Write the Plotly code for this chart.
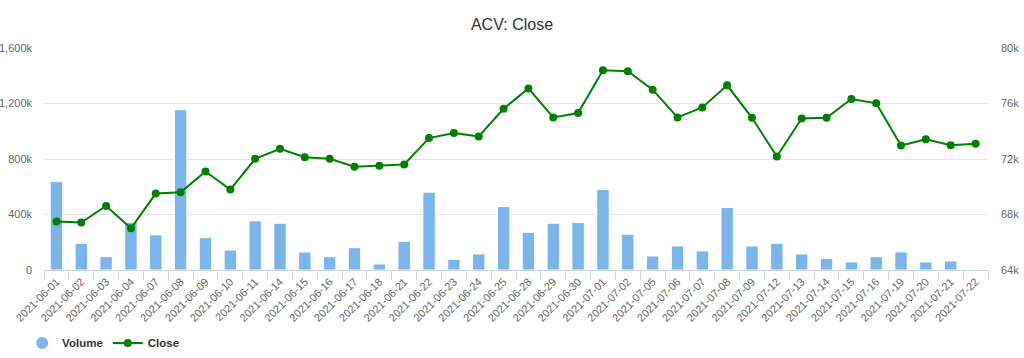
import plotly.graph_objects as go

dates = ["2021-06-01","2021-06-02","2021-06-03","2021-06-04","2021-06-07","2021-06-08","2021-06-09",
         "2021-06-10","2021-06-11","2021-06-14","2021-06-15","2021-06-16","2021-06-17","2021-06-18",
         "2021-06-21","2021-06-22","2021-06-23","2021-06-24","2021-06-25","2021-06-28","2021-06-29",
         "2021-06-30","2021-07-01","2021-07-02","2021-07-05","2021-07-06","2021-07-07","2021-07-08",
         "2021-07-09","2021-07-12","2021-07-13","2021-07-14","2021-07-15","2021-07-16","2021-07-19",
         "2021-07-20","2021-07-21","2021-07-22"]

volume = [637000, 193000, 96000, 344000, 253000, 1155000, 233000, 144000, 354000, 337000,
          130000, 96000, 161000, 43000, 207000, 561000, 77000, 116000, 457000, 272000,
          337000, 342000, 580000, 258000, 101000, 173000, 137000, 450000, 173000, 193000,
          116000, 84000, 58000, 96000, 130000, 58000, 65000, 0]

close = [67490, 67420, 68620, 67010, 69510, 69610, 71100, 69800, 72010, 72740,
         72130, 72010, 71440, 71510, 71600, 73510, 73870, 73620, 75620, 77090,
         75000, 75310, 78390, 78320, 77000, 75000, 75720, 77310, 74970, 72180,
         74920, 74970, 76320, 76010, 72970, 73430, 73000, 73100]

vol_ticks = [0, 400000, 800000, 1200000, 1600000]
vol_labels = ["0", "400k", "800k", "1,200k", "1,600k"]
close_ticks = [64000, 68000, 72000, 76000, 80000]
close_labels = ["64k", "68k", "72k", "76k", "80k"]

BAR = "#7cb5ec"
LINE = "#008000"
FONT = "Arial, Liberation Sans, sans-serif"

fig = go.Figure()
fig.add_trace(go.Bar(x=dates, y=volume, name="Volume", marker=dict(color=BAR, line=dict(color="#ffffff", width=1)),
                     yaxis="y", showlegend=False))
fig.add_trace(go.Scatter(x=dates, y=close, name="Close", mode="lines+markers",
                         line=dict(color=LINE, width=2), marker=dict(color=LINE, size=8),
                         yaxis="y2", showlegend=False))
# legend entries
fig.add_trace(go.Scatter(x=[None], y=[None], name="Volume", mode="markers",
                         marker=dict(color=BAR, size=12, symbol="circle"), yaxis="y"))
fig.add_trace(go.Scatter(x=[None], y=[None], name="Close", mode="lines+markers",
                         line=dict(color=LINE, width=2), marker=dict(color=LINE, size=8), yaxis="y2"))

fig.update_layout(
    width=1024, height=358,
    margin=dict(l=44, r=36, t=48, b=88, autoexpand=False),
    paper_bgcolor="white", plot_bgcolor="white",
    font=dict(family=FONT, color="#666666", size=11),
    title=dict(text="ACV: Close", x=0.5, xanchor="center", yref="container", y=0.933, yanchor="middle",
               font=dict(size=16, color="#333333", family=FONT)),
    bargap=0.5,
    showlegend=True,
    legend=dict(orientation="h", xref="container", yref="container", x=0.0216, y=0.042,
                xanchor="left", yanchor="middle",
                font=dict(size=11.5, color="#333333", family=FONT, weight="bold"),
                itemwidth=30),
    xaxis=dict(type="category", categoryorder="array", categoryarray=dates, automargin=False,
               range=[-0.5, len(dates) - 0.5],
               tickangle=-45, tickson="boundaries", ticks="outside", ticklen=9, tickcolor="#ccd6eb",
               showline=True, linecolor="#ccd6eb", linewidth=1, showgrid=False,
               tickfont=dict(size=11, color="#666666")),
    yaxis=dict(range=[0, 1600000], tickvals=vol_ticks, ticktext=vol_labels, automargin=False,
               showgrid=True, gridcolor="#e6e6e6", zeroline=False, showline=False,
               tickfont=dict(size=11, color="#666666"), ticklabelstandoff=11),
    yaxis2=dict(range=[64000, 80000], tickvals=close_ticks, ticktext=close_labels, automargin=False,
                overlaying="y", side="right", showgrid=False, zeroline=False, showline=False,
                tickfont=dict(size=11, color="#666666"), ticklabelstandoff=12),
)

fig.write_html("out.html", config={"displayModeBar": False},
               post_script="document.body.style.margin='0';document.body.style.overflow='hidden';")
